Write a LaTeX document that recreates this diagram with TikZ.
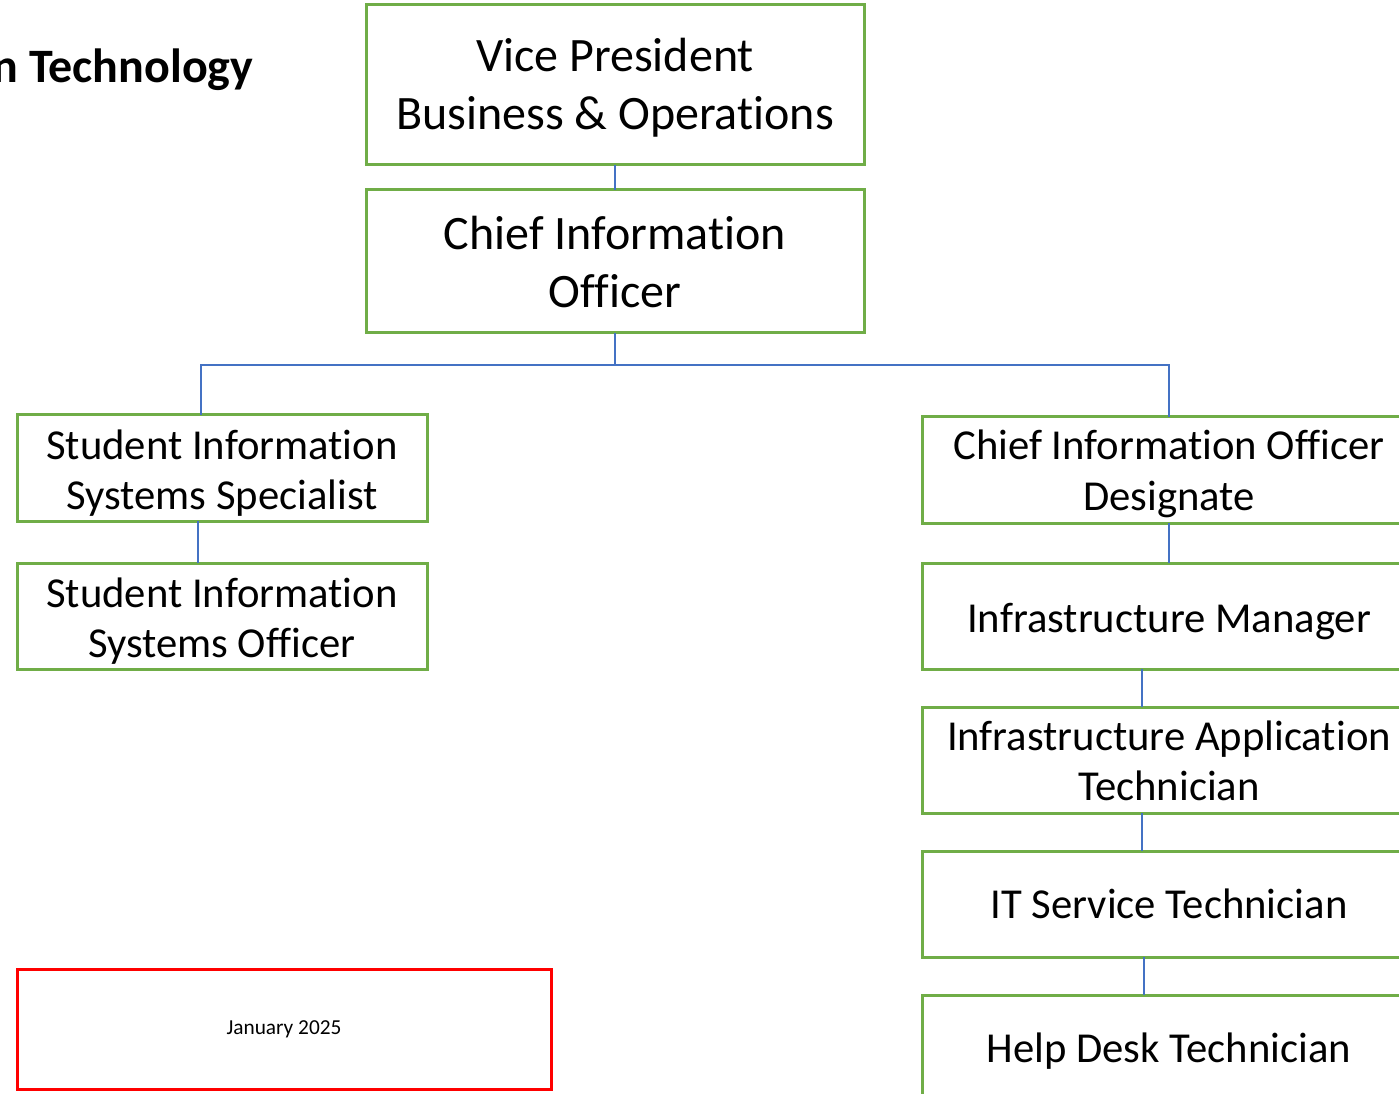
\documentclass[tikz,border=0pt]{standalone}
\usepackage{fontspec}
\setmainfont{Carlito}[Ligatures=NoCommon]
\usetikzlibrary{positioning}
\definecolor{boxgreen}{HTML}{70AD47}
\definecolor{lineblue}{HTML}{4472C4}
\begin{document}
\begin{tikzpicture}[x=0.75pt,y=-0.75pt,
	cnode/.style={rectangle,draw=boxgreen,line width=2.25pt,fill=white,align=center,inner sep=0pt,outer sep=0pt,text depth=0pt},
	bignode/.style={cnode,minimum width=373.5pt,font=\fontsize{36}{43.5}\selectfont},
	leftnode/.style={cnode,minimum width=307.5pt,minimum height=79.5pt,text height=61.5pt,font=\fontsize{32}{37.5}\selectfont},
	rightnode/.style={cnode,minimum width=370.5pt,minimum height=79.5pt,text height=60pt,font=\fontsize{32}{37.5}\selectfont},
	oneline/.style={text height=22pt},
	link/.style={draw=lineblue,line width=1pt},
	node distance = 28.5pt]
	\useasboundingbox (0,0) rectangle (1399,1094);
	\node[anchor=base east,font=\fontsize{36}{43}\selectfont\bfseries] (title) at (258,83) {n Technology};
	\node[bignode,minimum height=120pt,text height=67.5pt] (vp) at (615,85) {Vice President\\Business \& Operations};
	\node[bignode,minimum height=107.25pt,text height=69.75pt] (cio) at (615,261.5) {Chief Information\\Officer};
	\node[leftnode] (sis) at (222,468) {Student Information\\Systems Specialist};
	\node[leftnode] (siso)[below = 31.5pt of sis] {Student Information\\Systems Officer};
	\node[rightnode] (ciod) at (1169,470) {Chief Information Officer\\Designate};
	\node[rightnode,oneline,text height=25pt] (im)[below = 30pt of ciod] {Infrastructure Manager};
	\node[rightnode] (iat)[below = of im] {Infrastructure Application\\Technician};
	\node[rightnode,oneline] (its)[below = of iat] {IT Service Technician};
	\node[rightnode,oneline] (hdt)[below = of its] {Help Desk Technician};
	\node[rectangle,draw=red,line width=2.25pt,minimum width=400.5pt,minimum height=90pt,font=\fontsize{16}{19}\selectfont] (date) at (284,1029) {January 2025};
	\coordinate (bus) at (615,365);
	\draw[link] (vp.south) -- (cio.north);
	\draw[link] (cio.south) -- (bus);
	\draw[link] ([xshift=-15.75pt]sis.north) |- (bus) -| (ciod.north);
	\draw[link] ([xshift=-18pt]sis.south) -- ([xshift=-18pt]siso.north);
	\draw[link] (ciod.south) -- (im.north);
	\draw[link] ([xshift=-20.25pt]im.south) -- ([xshift=-20.25pt]iat.north);
	\draw[link] ([xshift=-20.25pt]iat.south) -- ([xshift=-20.25pt]its.north);
	\draw[link] ([xshift=-18.75pt]its.south) -- ([xshift=-18.75pt]hdt.north);
\end{tikzpicture}
\end{document}
